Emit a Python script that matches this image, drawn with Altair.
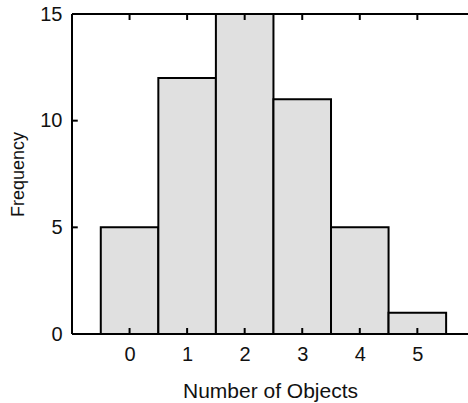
import altair as alt
import pandas as pd

# Histogram counts
objects = [0, 1, 2, 3, 4, 5]
frequency = [5, 12, 15, 11, 5, 1]

# Tick positions
x_ticks = [0, 1, 2, 3, 4, 5]
y_ticks = [0, 5, 10, 15]

X_MIN, X_MAX = -1.0, 5.88
Y_MIN, Y_MAX = 0, 15
FONT = "Liberation Sans"
INK = "#111111"

bars_df = pd.DataFrame({"objects": objects, "frequency": frequency})

x_scale = alt.Scale(domain=[X_MIN, X_MAX], nice=False, zero=False)
y_scale = alt.Scale(domain=[Y_MIN, Y_MAX], nice=False)

bars = (
    alt.Chart(bars_df)
    .transform_calculate(x0="datum.objects - 0.5", x1="datum.objects + 0.5")
    .mark_rect(fill="#e0e0e0", stroke="#000000", strokeWidth=2)
    .encode(
        x=alt.X(
            "x0:Q",
            scale=x_scale,
            axis=alt.Axis(
                values=x_ticks,
                format="d",
                ticks=False,
                grid=False,
                domain=False,
                labelFont=FONT,
                labelFontSize=20,
                labelColor=INK,
                labelPadding=10,
                title="Number of Objects",
                titleFont=FONT,
                titleFontSize=21,
                titleFontWeight="normal",
                titleColor=INK,
                titlePadding=16,
            ),
        ),
        x2="x1:Q",
        y=alt.Y(
            "frequency:Q",
            scale=y_scale,
            axis=alt.Axis(
                values=y_ticks,
                format="d",
                ticks=False,
                grid=False,
                domain=False,
                labelFont=FONT,
                labelFontSize=20,
                labelColor=INK,
                labelPadding=10,
                title="Frequency",
                titleFont=FONT,
                titleFontSize=18,
                titleFontWeight="normal",
                titleColor=INK,
                titlePadding=12,
            ),
        ),
        y2=alt.Y2(datum=0),
    )
)

# Frame (left, bottom, top) and inward-pointing tick marks
rows = [
    {"x": X_MIN, "x2": X_MIN, "y": Y_MIN, "y2": Y_MAX},
    {"x": X_MIN, "x2": X_MAX, "y": Y_MIN, "y2": Y_MIN},
    {"x": X_MIN, "x2": X_MAX, "y": Y_MAX, "y2": Y_MAX},
]
for t in x_ticks:
    rows.append({"x": t, "x2": t, "y": 0, "y2": 0.28})
    rows.append({"x": t, "x2": t, "y": 15, "y2": 14.72})
for t in y_ticks:
    rows.append({"x": X_MIN, "x2": X_MIN + 0.1, "y": t, "y2": t})
lines_df = pd.DataFrame(rows)

lines = (
    alt.Chart(lines_df)
    .mark_rule(color="#000000", strokeWidth=2)
    .encode(
        x=alt.X("x:Q", scale=x_scale),
        x2="x2:Q",
        y=alt.Y("y:Q", scale=y_scale),
        y2="y2:Q",
    )
)

chart = (
    alt.layer(bars, lines)
    .properties(
        width=396,
        height=320,
        autosize=alt.AutoSizeParams(type="none"),
        padding={"left": 72, "top": 14, "right": 0, "bottom": 69},
    )
    .configure_view(stroke=None)
    .configure(background="white")
)

chart.save("out.html", embed_options={"renderer": "svg", "actions": False})
